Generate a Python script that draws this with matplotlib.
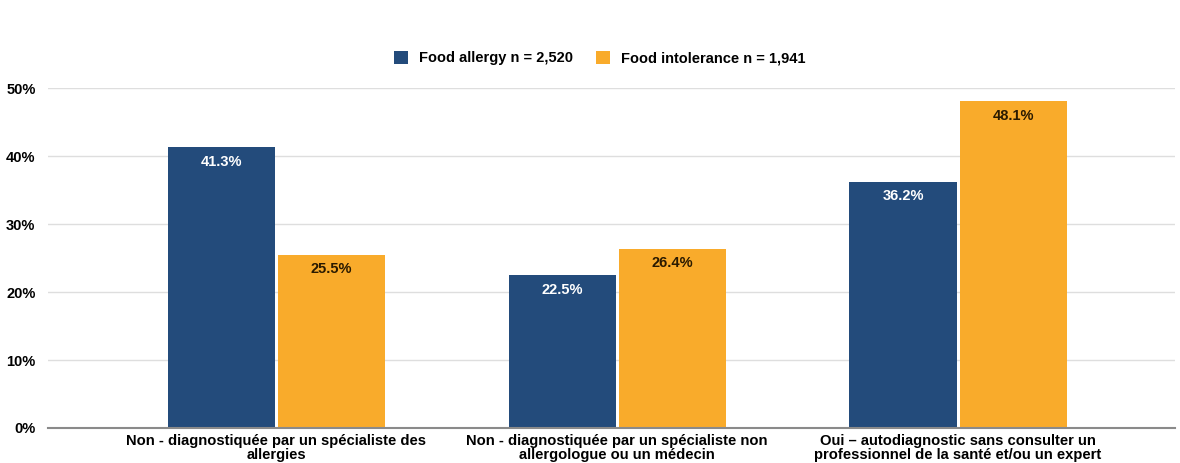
import matplotlib
matplotlib.use("Agg")
import matplotlib.pyplot as plt
import numpy as np
from matplotlib.patches import Patch

categories = [
    "Non - diagnostiquée par un spécialiste des\nallergies",
    "Non - diagnostiquée par un spécialiste non\nallergologue ou un médecin",
    "Oui – autodiagnostic sans consulter un\nprofessionnel de la santé et/ou un expert",
]
series_names = ["Food allergy n = 2,520", "Food intolerance n = 1,941"]
allergy = [41.3, 22.5, 36.2]
intolerance = [25.5, 26.4, 48.1]
yticks = [0, 10, 20, 30, 40, 50]

blue = "#234b7b"
orange = "#f9ab2b"

plt.rcParams['font.family'] = ['Liberation Sans', 'DejaVu Sans']

fig = plt.figure(figsize=(11.8, 4.63), dpi=100)
ax = fig.add_axes([0.0407, 0.0756, 0.955, 0.734])

x = np.arange(len(categories))
w = 0.314
gap = 0.0045
b1 = ax.bar(x - w/2 - gap, allergy, w, color=blue, zorder=3)
b2 = ax.bar(x + w/2 + gap, intolerance, w, color=orange, zorder=3)

for rect, v in zip(b1, allergy):
    ax.text(rect.get_x() + rect.get_width()/2, v - 1.1, f"{v:.1f}%", ha="center", va="top",
            color="white", fontsize=10.5, fontweight="bold", zorder=4)
for rect, v in zip(b2, intolerance):
    ax.text(rect.get_x() + rect.get_width()/2, v - 1.1, f"{v:.1f}%", ha="center", va="top",
            color="#2a1a00", fontsize=10.5, fontweight="bold", zorder=4)

ax.set_ylim(0, 50)
ax.set_xlim(-0.669, 2.636)
ax.set_yticks(yticks)
ax.set_yticklabels([f"{t}%" for t in yticks], fontsize=10.5, fontweight="bold")
ax.set_xticks(x)
ax.set_xticklabels(categories, fontsize=10.6, fontweight="bold", linespacing=1.0)
ax.tick_params(axis="both", length=0)
ax.tick_params(axis="y", pad=9)
ax.tick_params(axis="x", pad=4)
ax.yaxis.grid(True, color="#dedede", linewidth=1, zorder=0)
for s in ["top", "right", "left"]:
    ax.spines[s].set_visible(False)
ax.spines["bottom"].set_color("#8a8a8a")
ax.spines["bottom"].set_linewidth(1.5)
ax.spines["bottom"].set_zorder(5)

handles = [Patch(facecolor=blue), Patch(facecolor=orange)]
fig.legend(handles, series_names, loc="center", bbox_to_anchor=(0.508, 0.875), ncol=2,
           frameon=False, prop={"weight": "bold", "size": 10.5},
           handlelength=1.0, handleheight=1.0, handletextpad=0.7, columnspacing=1.6)

fig.savefig("out.png", dpi=100)
